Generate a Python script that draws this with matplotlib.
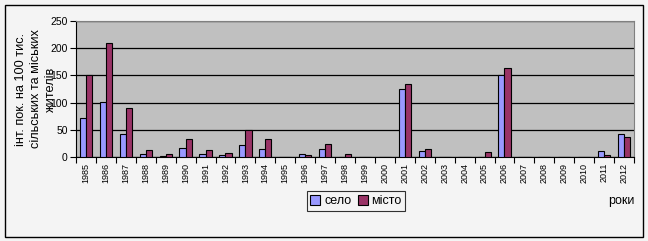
import matplotlib
matplotlib.use("Agg")
import matplotlib.pyplot as plt
import numpy as np
from matplotlib.patches import Rectangle

years = [str(y) for y in range(1985, 2013)]
selo = [72, 101, 42, 5.5, 2.5, 16.5, 5.5, 3.7, 22, 14.7, 0, 5.5, 14.7, 0, 0, 0,
        125, 10.4, 0, 0, 0, 151, 0, 0, 0, 0, 11, 42]
misto = [151, 210, 90, 13, 5.5, 33, 13, 7.4, 50, 33, 0, 3.7, 24, 5.5, 0, 0,
         134, 14.7, 0, 0, 9.2, 164, 0, 0, 0, 0, 3.7, 37.4]
yticks = [0, 50, 100, 150, 200, 250]

plt.rcParams['font.family'] = ['Liberation Sans', 'DejaVu Sans']

W, H = 648, 241
fig = plt.figure(figsize=(W / 100, H / 100), dpi=100)
fig.patch.set_facecolor('#f4f4f4')
fig.patches.append(Rectangle((5 / W, 4 / H), 638 / W, 232 / H, transform=fig.transFigure,
                             fill=False, edgecolor='black', linewidth=1.0))

left, right, top, bottom = 76, 634, 21, 157
ax = fig.add_axes([left / W, 1 - bottom / H, (right - left) / W, (bottom - top) / H])
ax.set_facecolor('#c0c0c0')

x = np.arange(len(years))
bw = 0.31
ax.bar(x - bw / 2, selo, bw, color='#9999ff', edgecolor='black', linewidth=0.8, label='село', zorder=3)
ax.bar(x + bw / 2, misto, bw, color='#993366', edgecolor='black', linewidth=0.8, label='місто', zorder=3)

ax.set_xlim(-0.5, len(years) - 0.5)
ax.set_ylim(0, 250)
ax.set_yticks(yticks)
ax.set_yticklabels([str(v) for v in yticks], fontsize=7.5)
ax.yaxis.grid(True, color='black', linewidth=0.9, zorder=1)
ax.set_axisbelow(True)

ax.set_xticks(x)
ax.set_xticklabels(years, rotation=90, fontsize=6.5)
ax.tick_params(axis='x', length=0, pad=4)
ax.set_xticks(np.arange(-0.5, len(years)), minor=True)
ax.tick_params(axis='x', which='minor', length=4, width=0.8, direction='out')
ax.tick_params(axis='y', length=4, width=0.8, direction='out', pad=2)

for s in ['top', 'right']:
    ax.spines[s].set_color('#808080')
ax.spines['left'].set_color('black')
ax.spines['bottom'].set_color('black')

fig.text(36 / W, 1 - 89 / H, 'інт. пок. на 100 тис.\nсільських та міських\nжителів',
         rotation=90, ha='center', va='center', fontsize=9.2, linespacing=1.3)

leg = fig.legend(loc='center', bbox_to_anchor=(356 / W, 1 - 201 / H), ncol=2,
                 fontsize=9, frameon=True, fancybox=False, edgecolor='black',
                 handlelength=0.8, handleheight=0.8, handletextpad=0.3, columnspacing=0.5,
                 borderpad=0.3, borderaxespad=0)
leg.get_frame().set_facecolor('#f4f4f4')
leg.get_frame().set_linewidth(0.8)

fig.text(621 / W, 1 - 201 / H, 'роки', ha='center', va='center', fontsize=9)

fig.savefig('out.png', dpi=100, facecolor=fig.get_facecolor())
